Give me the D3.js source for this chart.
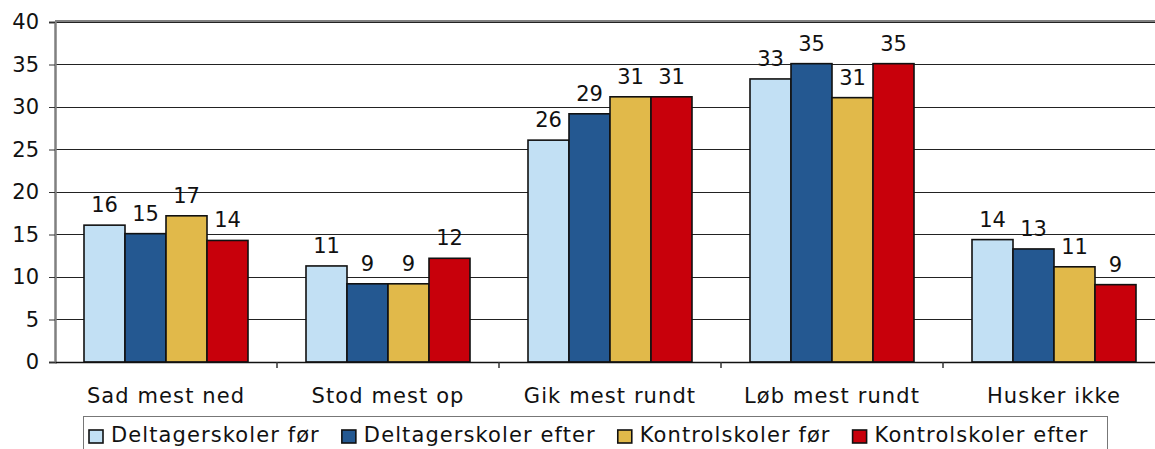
<!DOCTYPE html>
<html>
<head>
<meta charset="utf-8">
<script src="https://cdn.jsdelivr.net/npm/d3@7"></script>
<style>
  body { margin: 0; background: #fff; }
  svg { display: block; font-family: "DejaVu Sans", Verdana, sans-serif; }
</style>
</head>
<body>
<div id="chart"></div>
<script>
const categories = ["Sad mest ned", "Stod mest op", "Gik mest rundt", "Løb mest rundt", "Husker ikke"];
const seriesNames = ["Deltagerskoler før", "Deltagerskoler efter", "Kontrolskoler før", "Kontrolskoler efter"];
const deltagerFoer = [16.1, 11.3, 26.1, 33.3, 14.4];
const deltagerEfter = [15.1, 9.2, 29.2, 35.1, 13.3];
const kontrolFoer = [17.2, 9.2, 31.2, 31.1, 11.2];
const kontrolEfter = [14.3, 12.2, 31.2, 35.1, 9.1];
const yTicks = [0, 5, 10, 15, 20, 25, 30, 35, 40];
const colors = ["#c2e0f4", "#245891", "#e1b94a", "#c8000b"];

const seriesValues = [deltagerFoer, deltagerEfter, kontrolFoer, kontrolEfter];

const width = 1155, height = 449;
const margin = { top: 22, left: 55 };
const plotRight = 1165, plotBottom = 362;

const svg = d3.select("#chart").append("svg")
  .attr("width", width)
  .attr("height", height);

const x = d3.scaleBand()
  .domain(categories)
  .range([margin.left, plotRight])
  .paddingInner(0).paddingOuter(0);

const xInner = d3.scaleBand()
  .domain(d3.range(seriesNames.length))
  .range([29, x.bandwidth() - 29]);

const y = d3.scaleLinear()
  .domain([0, 40])
  .range([plotBottom, margin.top]);

// gridlines
svg.append("g")
  .selectAll("line")
  .data(yTicks.filter(d => d > 0))
  .enter().append("line")
  .attr("x1", margin.left).attr("x2", plotRight)
  .attr("y1", d => y(d)).attr("y2", d => y(d))
  .attr("stroke", "#222")
  .attr("stroke-width", 1)
  .attr("shape-rendering", "crispEdges");

// top border of plot area
svg.append("line")
  .attr("x1", margin.left).attr("x2", plotRight)
  .attr("y1", y(40) - 1).attr("y2", y(40) - 1)
  .attr("stroke", "#808080").attr("stroke-width", 2);

// bars
const rows = [];
categories.forEach((c, i) => {
  seriesValues.forEach((vals, s) => rows.push({ cat: c, s: s, v: vals[i] }));
});

svg.append("g")
  .selectAll("rect")
  .data(rows)
  .enter().append("rect")
  .attr("x", d => x(d.cat) + xInner(d.s))
  .attr("y", d => y(d.v))
  .attr("width", xInner.bandwidth())
  .attr("height", d => y(0) - y(d.v))
  .attr("fill", d => colors[d.s])
  .attr("stroke", "#111")
  .attr("stroke-width", 1.6);

// value labels
svg.append("g")
  .selectAll("text")
  .data(rows)
  .enter().append("text")
  .attr("x", d => x(d.cat) + xInner(d.s) + xInner.bandwidth() / 2)
  .attr("y", d => y(d.v) - 13)
  .attr("text-anchor", "middle")
  .attr("font-size", 21)
  .attr("fill", "#111")
  .text(d => d3.format(".0f")(d.v));

// y axis
const yAxis = d3.axisLeft(y).tickValues(yTicks).tickSize(6).tickPadding(10);
const gy = svg.append("g")
  .attr("transform", `translate(${margin.left},0)`)
  .call(yAxis);
gy.select(".domain").attr("stroke", "#808080").attr("stroke-width", 2.5);
gy.selectAll(".tick line").attr("stroke", "#333");
gy.selectAll(".tick text").attr("font-size", 21).attr("font-family", "DejaVu Sans").attr("fill", "#111");

// x axis
const xAxis = d3.axisBottom(x).tickSize(0).tickPadding(26);
const gx = svg.append("g")
  .attr("transform", `translate(0,${plotBottom})`)
  .call(xAxis);
gx.select(".domain").attr("stroke", "#111").attr("stroke-width", 1.5);
gx.selectAll(".tick text")
  .attr("font-size", 21)
  .attr("font-family", "DejaVu Sans")
  .attr("letter-spacing", "1.1px")
  .attr("fill", "#111");

// category boundary ticks
svg.append("g")
  .selectAll("line")
  .data(categories.slice(1))
  .enter().append("line")
  .attr("x1", d => x(d)).attr("x2", d => x(d))
  .attr("y1", plotBottom).attr("y2", plotBottom + 6)
  .attr("stroke", "#333").attr("stroke-width", 1.5);

// legend
const legend = svg.append("g");
legend.append("rect")
  .attr("x", 83.5).attr("y", 416.5)
  .attr("width", 1024).attr("height", 60)
  .attr("fill", "#fff")
  .attr("stroke", "#777").attr("stroke-width", 1);

let lx = 89;
seriesNames.forEach((name, i) => {
  legend.append("rect")
    .attr("x", lx).attr("y", 430)
    .attr("width", 14).attr("height", 13)
    .attr("fill", colors[i])
    .attr("stroke", "#111").attr("stroke-width", 1.6);
  const t = legend.append("text")
    .attr("x", lx + 22).attr("y", 442)
    .attr("font-size", 21)
    .attr("letter-spacing", "1.1px")
    .attr("fill", "#111")
    .text(name);
  lx += 22 + t.node().getComputedTextLength() + 22;
});
</script>
</body>
</html>
